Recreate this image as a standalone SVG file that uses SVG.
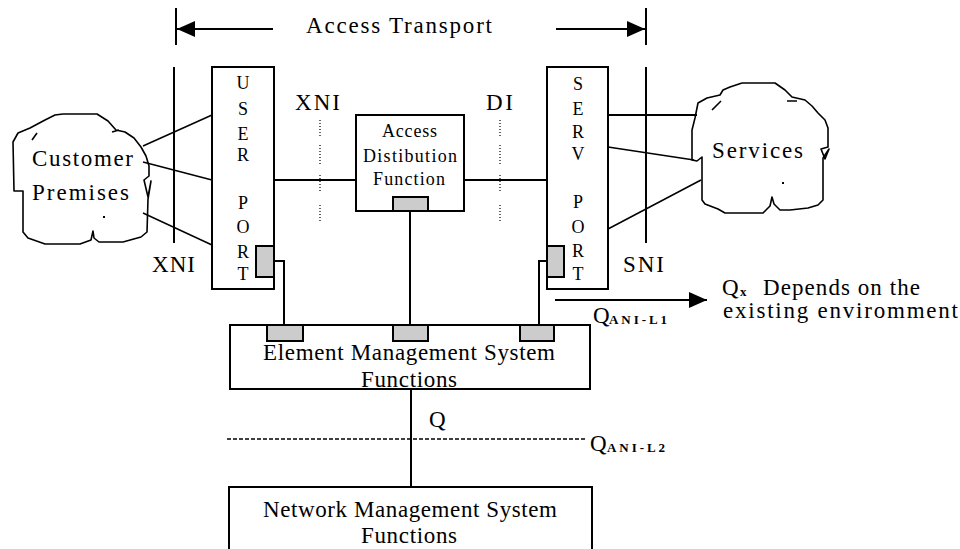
<svg xmlns="http://www.w3.org/2000/svg" width="960" height="549" viewBox="0 0 960 549">
<style>
text{font-family:"Liberation Serif","Times New Roman",serif;fill:#000}
.t{font-size:23px}
.s{font-size:18px}
.p{font-size:18px;text-anchor:middle}
.sub{font-size:13px;font-weight:bold}
.box{fill:#fff;stroke:#000;stroke-width:2}
.gray{fill:#cccccc;stroke:#000;stroke-width:2}
.ln{fill:none;stroke:#000;stroke-width:2}
.thin{fill:none;stroke:#000;stroke-width:1.5}
.cloud{fill:none;stroke:#000;stroke-width:1.6;stroke-linejoin:round}
.dot{fill:none;stroke:#000;stroke-width:1.2;stroke-dasharray:1 2}
.dash{fill:none;stroke:#000;stroke-width:1.5;stroke-dasharray:4 2}
</style>
<defs>
<marker id="ah" markerWidth="18" markerHeight="16" refX="18" refY="8" orient="auto" markerUnits="userSpaceOnUse">
<path d="M0,0 L18,8 L0,16 Z" fill="#000"/>
</marker>
</defs>
<rect width="960" height="549" fill="#fff"/>

<g id="access-transport">
<line class="ln" x1="176" y1="8" x2="176" y2="45"/>
<line class="ln" x1="646" y1="8" x2="646" y2="45"/>
<line class="ln" x1="273" y1="29" x2="177" y2="29" marker-end="url(#ah)"/>
<line class="ln" x1="556" y1="29" x2="645" y2="29" marker-end="url(#ah)"/>
<text class="t" x="306" y="33" textLength="186" lengthAdjust="spacing">Access Transport</text>
</g>

<g id="reference-lines">
<line class="ln" x1="174" y1="67" x2="174" y2="243"/>
<line class="ln" x1="646" y1="67" x2="646" y2="243"/>
<g class="dot">
<line x1="320" y1="120" x2="320" y2="136"/><line x1="320" y1="145" x2="320" y2="165"/><line x1="320" y1="175" x2="320" y2="193"/><line x1="320" y1="205" x2="320" y2="223"/>
<line x1="500" y1="120" x2="500" y2="136"/><line x1="500" y1="145" x2="500" y2="165"/><line x1="500" y1="175" x2="500" y2="193"/><line x1="500" y1="205" x2="500" y2="223"/>
</g>
<line class="dash" x1="227" y1="439" x2="587" y2="439"/>
<text class="t" x="295" y="110" textLength="45" lengthAdjust="spacing">XNI</text>
<text class="t" x="486" y="110" textLength="27" lengthAdjust="spacing">DI</text>
<text class="t" x="152" y="272" textLength="43" lengthAdjust="spacing">XNI</text>
<text class="t" x="623" y="272" textLength="41" lengthAdjust="spacing">SNI</text>
<text class="t" x="429" y="427">Q</text>
<text class="t" x="590" y="451">Q</text>
<text class="sub" x="607" y="452" textLength="58" lengthAdjust="spacing">ANI-L2</text>
</g>

<g id="customer-premises">
<path class="cloud" d="M63,114 L97,114 L108,121 L116,130 L125,132 L134,138 L141,147 L146,156 L149,166 L149,176 L144,180 L148,197 L151,181 L148,199 L147,232 L141,237 L123,242 L99,242 L94,238 L93,231 L91,240 L80,244 L45,244 L28,238 L23,232 L23,191 L14,191 L13,142 L18,133 L30,128 L45,120 L55,115 L63,114 M112,132 L119,130 M32,140 L37,133"/>
<rect x="103" y="216" width="2" height="2" fill="#000"/>
<text class="t" x="32" y="166" textLength="101" lengthAdjust="spacing">Customer</text>
<text class="t" x="32" y="200" textLength="97" lengthAdjust="spacing">Premises</text>
</g>

<g id="services">
<path class="cloud" d="M742,83 L775,83 L785,90 L792,97 L805,100 L812,106 L818,113 L825,120 L828,128 L828,147 L821,149 L825,159 L829,149 L823,158 L823,200 L818,205 L808,208 L790,210 L780,210 L774,204 L772,197 L770,206 L763,213 L725,213 L718,209 L705,204 L702,200 L702,157 L697,161 L692,160 L692,130 L695,118 L698,103 L707,98 L720,95 L723,90 L730,87 L742,83 M787,101 L797,101 M712,110 L721,101"/>
<rect x="782" y="182" width="2" height="2" fill="#000"/>
<text class="t" x="712" y="158" textLength="91" lengthAdjust="spacing">Services</text>
</g>

<g id="user-port">
<rect class="box" x="212" y="67" width="62" height="222"/>
<text class="p" x="243" y="89">U</text>
<text class="p" x="243" y="115">S</text>
<text class="p" x="243" y="140">E</text>
<text class="p" x="243" y="161">R</text>
<text class="p" x="243" y="209">P</text>
<text class="p" x="243" y="233">O</text>
<text class="p" x="243" y="258">R</text>
<text class="p" x="243" y="280">T</text>
<rect class="gray" x="256" y="246" width="18" height="31"/>
</g>

<g id="serv-port">
<rect class="box" x="547" y="67" width="61" height="222"/>
<text class="p" x="578" y="90">S</text>
<text class="p" x="578" y="115">E</text>
<text class="p" x="578" y="138">R</text>
<text class="p" x="578" y="160">V</text>
<text class="p" x="578" y="208">P</text>
<text class="p" x="578" y="233">O</text>
<text class="p" x="578" y="257">R</text>
<text class="p" x="578" y="280">T</text>
<rect class="gray" x="547" y="246" width="17" height="31"/>
</g>

<g id="access-distribution-function">
<rect class="box" x="356" y="115" width="108" height="96"/>
<text class="s" x="382" y="137" textLength="55" lengthAdjust="spacing">Access</text>
<text class="s" x="363" y="162" textLength="94" lengthAdjust="spacing">Distibution</text>
<text class="s" x="373" y="185" textLength="72" lengthAdjust="spacing">Function</text>
<rect class="gray" x="393" y="197" width="35" height="14"/>
</g>

<g id="element-management-system">
<rect class="box" x="230" y="325" width="360" height="64"/>
<rect class="gray" x="267" y="325" width="36" height="16"/>
<rect class="gray" x="393" y="325" width="35" height="16"/>
<rect class="gray" x="520" y="325" width="34" height="16"/>
<text class="t" x="263" y="360" textLength="292" lengthAdjust="spacing">Element Management System</text>
<text class="t" x="361" y="387" textLength="96" lengthAdjust="spacing">Functions</text>
</g>

<g id="network-management-system">
<rect class="box" x="229" y="487" width="363" height="80"/>
<text class="t" x="263" y="517" textLength="294" lengthAdjust="spacing">Network Management System</text>
<text class="t" x="361" y="543" textLength="96" lengthAdjust="spacing">Functions</text>
</g>

<g id="connectors">
<line class="thin" x1="212" y1="115" x2="143" y2="146"/>
<line class="thin" x1="212" y1="180" x2="143" y2="162"/>
<line class="thin" x1="212" y1="245" x2="143" y2="213"/>
<line class="ln" x1="274" y1="180" x2="356" y2="180"/>
<line class="ln" x1="464" y1="180" x2="547" y2="180"/>
<line class="ln" x1="608" y1="115" x2="697" y2="115"/>
<line class="thin" x1="608" y1="147" x2="694" y2="160"/>
<line class="thin" x1="608" y1="229" x2="701" y2="180"/>
<polyline class="ln" points="274,261 284,261 284,325"/>
<line class="ln" x1="410" y1="211" x2="410" y2="325"/>
<polyline class="ln" points="547,261 539,261 539,325"/>
<line class="ln" x1="411" y1="389" x2="411" y2="487"/>
<line class="ln" x1="555" y1="300" x2="707" y2="300" marker-end="url(#ah)"/>
</g>

<g id="q-labels">
<text class="t" x="593" y="323">Q</text>
<text class="sub" x="609" y="324" textLength="58" lengthAdjust="spacing">ANI-L1</text>
<text class="t" x="722" y="295">Q</text>
<text class="sub" x="740" y="296">x</text>
<text class="t" x="763" y="295" textLength="157" lengthAdjust="spacing">Depends on the</text>
<text class="t" x="723" y="318" textLength="235" lengthAdjust="spacing">existing enviromment</text>
</g>
</svg>
